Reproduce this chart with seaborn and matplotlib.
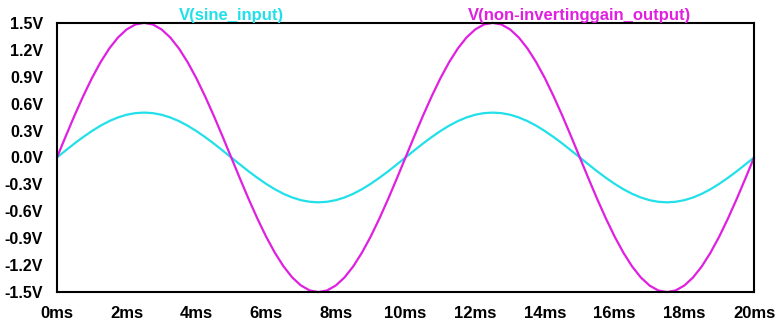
import numpy as np
import pandas as pd
import matplotlib
matplotlib.use("Agg")
import matplotlib.pyplot as plt
import seaborn as sns

# Samples every 0.25 ms over 0..20 ms
time_ms = np.linspace(0, 20, 81)

sine_input = [
    0.0, 0.078, 0.155, 0.227, 0.294, 0.354, 0.405, 0.446, 0.476, 0.494, 0.5,
    0.494, 0.476, 0.446, 0.405, 0.354, 0.294, 0.227, 0.155, 0.078, 0.0,
    -0.078, -0.155, -0.227, -0.294, -0.354, -0.405, -0.446, -0.476, -0.494, -0.5,
    -0.494, -0.476, -0.446, -0.405, -0.354, -0.294, -0.227, -0.155, -0.078, 0.0,
    0.078, 0.155, 0.227, 0.294, 0.354, 0.405, 0.446, 0.476, 0.494, 0.5,
    0.494, 0.476, 0.446, 0.405, 0.354, 0.294, 0.227, 0.155, 0.078, 0.0,
    -0.078, -0.155, -0.227, -0.294, -0.354, -0.405, -0.446, -0.476, -0.494, -0.5,
    -0.494, -0.476, -0.446, -0.405, -0.354, -0.294, -0.227, -0.155, -0.078, 0.0,
]

gain_output = [
    0.0, 0.235, 0.464, 0.681, 0.882, 1.061, 1.214, 1.337, 1.427, 1.482, 1.5,
    1.482, 1.427, 1.337, 1.214, 1.061, 0.882, 0.681, 0.464, 0.235, 0.0,
    -0.235, -0.464, -0.681, -0.882, -1.061, -1.214, -1.337, -1.427, -1.482, -1.5,
    -1.482, -1.427, -1.337, -1.214, -1.061, -0.882, -0.681, -0.464, -0.235, 0.0,
    0.235, 0.464, 0.681, 0.882, 1.061, 1.214, 1.337, 1.427, 1.482, 1.5,
    1.482, 1.427, 1.337, 1.214, 1.061, 0.882, 0.681, 0.464, 0.235, 0.0,
    -0.235, -0.464, -0.681, -0.882, -1.061, -1.214, -1.337, -1.427, -1.482, -1.5,
    -1.482, -1.427, -1.337, -1.214, -1.061, -0.882, -0.681, -0.464, -0.235, 0.0,
]

series_names = ["V(sine_input)", "V(non-invertinggain_output)"]
series_colors = ["#22E0EA", "#E020E0"]
label_pos_ms = [5, 15]

x_ticks = list(range(0, 21, 2))
y_ticks = [-1.5, -1.2, -0.9, -0.6, -0.3, 0.0, 0.3, 0.6, 0.9, 1.2, 1.5]

df = pd.DataFrame({
    "time": np.concatenate([time_ms, time_ms]),
    "value": sine_input + gain_output,
    "trace": [series_names[0]] * len(time_ms) + [series_names[1]] * len(time_ms),
})

sns.set_style("white")
plt.rcParams["font.family"] = ["Liberation Sans", "DejaVu Sans"]
plt.rcParams["font.weight"] = "bold"

fig = plt.figure(figsize=(7.75, 3.22), dpi=100)
ax = fig.add_axes([0.0735, 0.093, 0.8995, 0.836])

sns.lineplot(data=df, x="time", y="value", hue="trace",
             palette=dict(zip(series_names, series_colors)),
             linewidth=1.6, legend=False, ax=ax, clip_on=False)

ax.set_xlim(0, 20)
ax.set_ylim(-1.5, 1.5)
ax.set_xticks(x_ticks)
ax.set_xticklabels([f"{t}ms" for t in x_ticks], fontsize=12, fontweight="bold")
ax.set_yticks(y_ticks)
ax.set_yticklabels([f"{v:.1f}V" for v in y_ticks], fontsize=11.5, fontweight="bold")
ax.set_xlabel("")
ax.set_ylabel("")
ax.tick_params(axis="both", direction="out", length=9, width=1.5,
               color="black", pad=1, labelcolor="black")

for s in ax.spines.values():
    s.set_visible(True)
    s.set_color("black")
    s.set_linewidth(1.5)

# trace names sit just above the top border, centred over each half
for name, col, xpos in zip(series_names, series_colors, label_pos_ms):
    ax.text(xpos, 1.0, name, color=col, fontsize=12, fontweight="bold",
            ha="center", va="bottom", zorder=5,
            transform=ax.get_xaxis_transform())

fig.savefig("out.png", dpi=100)
